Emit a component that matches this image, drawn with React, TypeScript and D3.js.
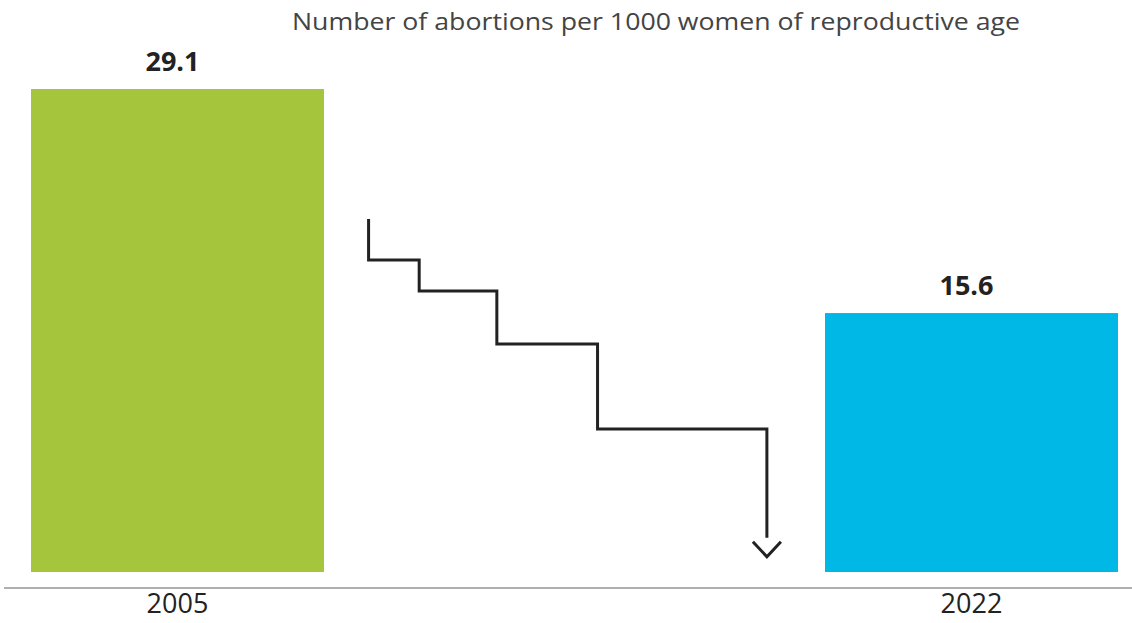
import React from "react";
import * as d3 from "d3";

const years: string[] = ["2005", "2022"];
const rates: number[] = [29.1, 15.6];
const barColors: string[] = ["#a5c63c", "#00b8e6"];
const title = "Number of abortions per 1000 women of reproductive age";

const W = 1132;
const H = 623;
const baseY = 572;
const axisY = 588;

export default function App() {
  const x = d3
    .scaleBand<string>()
    .domain(years)
    .range([31, 1118])
    .paddingInner(0.631)
    .paddingOuter(0);

  const y = d3.scaleLinear().domain([0, d3.max(rates) as number]).range([baseY, 89]);

  // Decorative descending staircase between the two bars, laid out in
  // fractions of the gap (x) and of the plot height (y).
  const gapL = (x(years[0]) as number) + x.bandwidth();
  const gapR = x(years[1]) as number;
  const gx = d3.scaleLinear().domain([0, 1]).range([gapL, gapR]);
  const gy = d3.scaleLinear().domain([0, 1]).range([89, baseY]);
  const stairs: [number, number][] = [
    [0.089, 0.269],
    [0.089, 0.354],
    [0.19, 0.354],
    [0.19, 0.418],
    [0.345, 0.418],
    [0.345, 0.528],
    [0.546, 0.528],
    [0.546, 0.704],
    [0.884, 0.704],
    [0.884, 0.929],
  ];
  const line = d3
    .line<[number, number]>()
    .x((d) => gx(d[0]))
    .y((d) => gy(d[1]));
  const tipX = gx(0.884);
  const tipY = gy(0.929) + 19;
  const chevron = `M${tipX - 14},${tipY - 15}L${tipX},${tipY}L${tipX + 14},${tipY - 15}`;

  const mid = (yr: string) => (x(yr) as number) + x.bandwidth() / 2;

  return (
    <svg
      width={W}
      height={H}
      style={{ position: "absolute", left: 0, top: 0, background: "#fff" }}
      fontFamily="'Open Sans', 'Noto Sans', sans-serif"
    >
      <text
        x={292}
        y={30}
        fontSize={24.5}
        fill="#444"
        textLength={728}
        lengthAdjust="spacingAndGlyphs"
      >
        {title}
      </text>

      {years.map((yr, i) => (
        <g key={yr}>
          <rect
            x={x(yr)}
            y={y(rates[i])}
            width={x.bandwidth()}
            height={baseY - y(rates[i])}
            fill={barColors[i]}
          />
          <text
            x={mid(yr) - 5}
            y={y(rates[i]) - 18}
            textAnchor="middle"
            fontSize={27}
            fontWeight={700}
            fill="#222"
          >
            {rates[i].toFixed(1)}
          </text>
          <text x={mid(yr)} y={613} textAnchor="middle" fontSize={27} fill="#222">
            {yr}
          </text>
        </g>
      ))}

      <line x1={4} x2={W} y1={axisY} y2={axisY} stroke="#b0b0b0" strokeWidth={2} />

      <path d={line(stairs) ?? ""} fill="none" stroke="#222" strokeWidth={3} strokeLinejoin="miter" />
      <path d={chevron} fill="none" stroke="#222" strokeWidth={3} />
    </svg>
  );
}
